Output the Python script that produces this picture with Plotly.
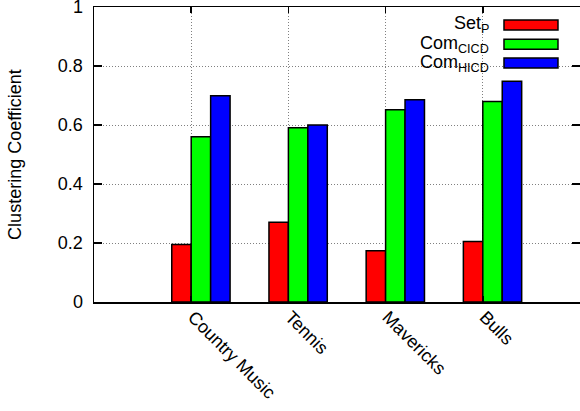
import plotly.graph_objects as go

categories = ["Country Music", "Tennis", "Mavericks", "Bulls"]
series_names = ["Set<sub>P</sub>", "Com<sub>CICD</sub>", "Com<sub>HICD</sub>"]
set_p = [0.195, 0.270, 0.174, 0.205]
com_cicd = [0.560, 0.591, 0.652, 0.680]
com_hicd = [0.699, 0.600, 0.686, 0.748]
y_ticks = [0, 0.2, 0.4, 0.6, 0.8, 1]

series_values = [set_p, com_cicd, com_hicd]
colors = ["#ff0000", "#00ff00", "#0000ff"]
offsets = [-0.2, 0.0, 0.2]
xpos = list(range(len(categories)))

FONT = "Liberation Sans"

fig = go.Figure()
for name, vals, col, off in zip(series_names, series_values, colors, offsets):
    fig.add_trace(go.Bar(
        x=xpos, y=vals, name=name, width=0.2, offset=off,
        marker=dict(color=col, line=dict(color="black", width=1.5)),
        showlegend=False, hoverinfo="skip",
    ))

# legend drawn gnuplot-style: text on the left, swatch on the right
leg_y = [0.939, 0.874, 0.810]
for name, col, yc in zip(series_names, colors, leg_y):
    fig.add_shape(type="rect", xref="paper", yref="paper",
                  x0=0.8436, x1=0.9547, y0=yc - 0.017, y1=yc + 0.017,
                  fillcolor=col, line=dict(color="black", width=1.5))
    fig.add_annotation(xref="paper", yref="paper", x=0.817, y=yc,
                       xanchor="right", yanchor="middle", showarrow=False,
                       text=name, font=dict(size=18, color="black", family=FONT))

axis_common = dict(
    showline=True, linecolor="black", linewidth=1.5, mirror="ticks",
    ticks="inside", tickcolor="black", tickwidth=1.5,
    showgrid=True, gridcolor="#808080", griddash="1px,2px", gridwidth=1,
    zeroline=False, automargin=False, ticklabeloverflow="allow",
    tickfont=dict(size=18, color="black", family=FONT),
)

fig.update_xaxes(
    range=[-1, 4], tickvals=xpos, ticktext=categories, tickangle=45,
    ticklen=6, ticklabelstandoff=-4, ticklabelshift=2, **axis_common,
)
fig.update_yaxes(
    range=[0, 1.0001], tickvals=y_ticks, ticklen=8, ticklabelstandoff=6,
    title=dict(text="Clustering Coefficient", font=dict(size=18, color="black", family=FONT), standoff=31),
    **axis_common,
)

fig.update_layout(
    width=580, height=411,
    margin=dict(l=94, r=0, t=7, b=109, autoexpand=False),
    barmode="overlay",
    plot_bgcolor="white", paper_bgcolor="white",
    font=dict(family=FONT, size=18, color="black"),
)

fig.write_html(
    "out.html",
    config={"displayModeBar": False, "staticPlot": True},
    post_script="document.body.style.margin='0';document.body.style.overflow='hidden';",
)
